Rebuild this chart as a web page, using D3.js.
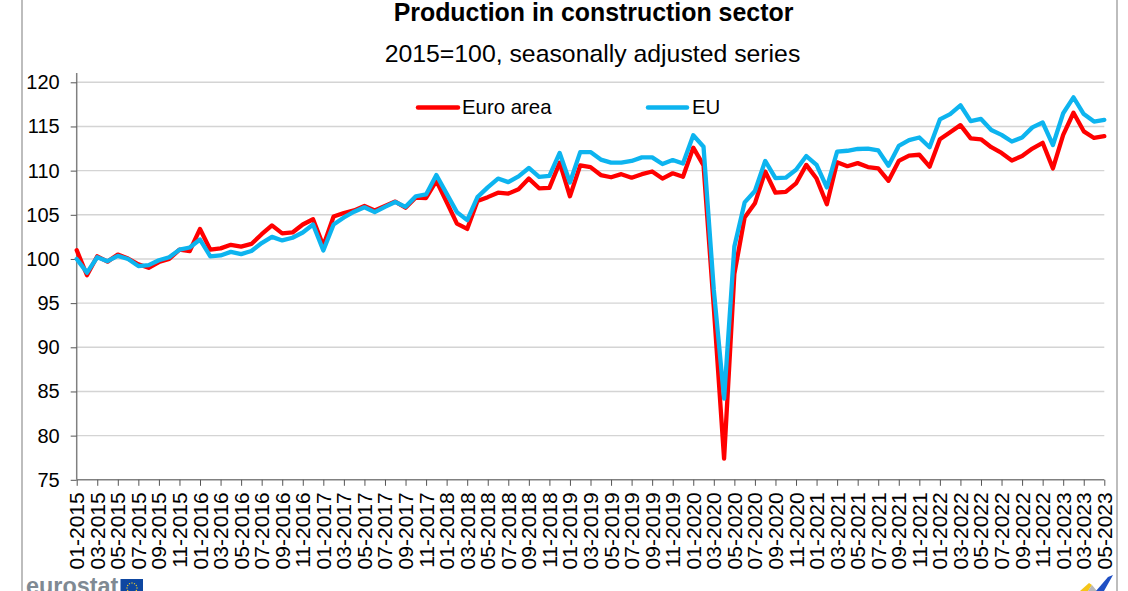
<!DOCTYPE html>
<html>
<head>
<meta charset="utf-8">
<script src="https://cdn.jsdelivr.net/npm/d3@7"></script>
<style>
html, body { margin: 0; padding: 0; background: #fff; overflow: hidden; }
svg { display: block; font-family: "Liberation Sans", Arial, sans-serif; }
</style>
</head>
<body>
<script>
var startYear = 2015;
var monthCount = 101;
var months = d3.range(monthCount).map(function (i) {
    var m = i % 12 + 1;
    return (m < 10 ? "0" : "") + m + "-" + (startYear + Math.floor(i / 12));
});

var euroArea = [
    101.0, 98.15, 100.3, 99.7, 100.5, 100.05, 99.4, 99.0, 99.65, 100.0, 101.05, 100.9,
    103.4, 101.05, 101.2, 101.6, 101.4, 101.7, 102.8, 103.8, 102.9, 103.0, 103.9, 104.5,
    101.5, 104.8, 105.2, 105.5, 106.0, 105.5, 106.0, 106.5, 105.8, 106.95, 106.9, 108.85,
    106.45, 104.0, 103.4, 106.55, 107.0, 107.5, 107.4, 107.9, 109.1, 108.0, 108.05, 110.9,
    107.1, 110.6, 110.4, 109.5, 109.25, 109.6, 109.2, 109.6, 109.9, 109.1, 109.7, 109.3,
    112.6, 110.6, 94.5, 77.4, 98.3, 104.7, 106.3, 109.9, 107.5, 107.6, 108.55, 110.65,
    109.1, 106.2, 110.95, 110.5, 110.85, 110.4, 110.25, 108.85, 111.1, 111.7, 111.8, 110.45,
    113.55, 114.35, 115.15, 113.65, 113.55, 112.65, 112.0, 111.15, 111.65, 112.5, 113.15, 110.25,
    114.05, 116.55, 114.45, 113.7, 113.9
];
var eu = [
    100.0, 98.45, 100.2, 99.75, 100.35, 100.0, 99.2, 99.3, 99.85, 100.2, 101.05, 101.3,
    102.2, 100.3, 100.4, 100.8, 100.55, 100.9, 101.8, 102.5, 102.1, 102.4, 103.0, 103.9,
    100.95, 103.9, 104.7, 105.35, 105.85, 105.3, 105.9, 106.45, 105.9, 107.1, 107.3, 109.5,
    107.4, 105.3, 104.4, 107.0, 108.1, 109.1, 108.7, 109.35, 110.3, 109.3, 109.4, 112.0,
    108.65, 112.1, 112.1, 111.25, 110.9, 110.9, 111.1, 111.5, 111.5, 110.75, 111.2, 110.8,
    114.0, 112.7, 96.5, 84.2, 101.4, 106.4, 107.7, 111.1, 109.15, 109.2, 110.1, 111.65,
    110.65, 108.1, 112.15, 112.25, 112.45, 112.5, 112.3, 110.55, 112.8, 113.45, 113.75, 112.65,
    115.8, 116.4, 117.4, 115.6, 115.85, 114.6, 114.05, 113.3, 113.75, 114.9, 115.45, 112.9,
    116.5, 118.3, 116.4, 115.55, 115.75
];
var yTicks = [75, 80, 85, 90, 95, 100, 105, 110, 115, 120];
var monthTicks = months.filter(function (d, i) { return i % 2 === 0; });

var _width = 1128;
var _height = 591;
var _left = 76.7, _right = 1104.3, _top = 82.3, _bottom = 479.8;
var _red = "#ff0000", _blue = "#0db4ef";

var svg = d3.select("body").append("svg")
    .attr("width", _width)
    .attr("height", _height);

var x = d3.scalePoint().domain(months).range([_left, _right]);
var y = d3.scaleLinear().domain([75, 120]).range([_bottom, _top]);

// page frame left over from the source document
svg.append("g").selectAll("line").data([22, 1117]).enter().append("line")
    .attr("x1", function (d) { return d; })
    .attr("x2", function (d) { return d; })
    .attr("y1", 0)
    .attr("y2", _height)
    .attr("stroke", "#bdbdbd")
    .attr("stroke-width", 2);

svg.append("text")
    .attr("x", 593.5).attr("y", 21)
    .attr("text-anchor", "middle")
    .attr("font-size", 24.9)
    .attr("font-weight", "bold")
    .attr("fill", "#000")
    .text("Production in construction sector");

svg.append("text")
    .attr("x", 592.5).attr("y", 61.5)
    .attr("text-anchor", "middle")
    .attr("font-size", 24.8)
    .attr("fill", "#000")
    .text("2015=100, seasonally adjusted series");

// gridlines
svg.append("g").selectAll("line").data(yTicks.slice(1)).enter().append("line")
    .attr("x1", _left)
    .attr("x2", _right)
    .attr("y1", function (d) { return y(d); })
    .attr("y2", function (d) { return y(d); })
    .attr("stroke", "#d4d4d4")
    .attr("stroke-width", 1.4);

var yAxis = svg.append("g")
    .attr("transform", "translate(" + _left + ",0)")
    .call(d3.axisLeft(y).tickValues(yTicks).tickSize(6).tickPadding(11));
yAxis.select(".domain")
    .attr("d", "M0," + 73 + "V" + _bottom)
    .attr("stroke", "#808080")
    .attr("stroke-width", 1.5);
yAxis.selectAll(".tick line").attr("stroke", "#555");
yAxis.selectAll("text")
    .attr("font-family", "Liberation Sans")
    .attr("font-size", 20)
    .attr("fill", "#000");

var xAxis = svg.append("g")
    .attr("transform", "translate(0," + _bottom + ")")
    .call(d3.axisBottom(x).tickValues(monthTicks).tickSize(6).tickPadding(0));
xAxis.select(".domain")
    .attr("d", "M" + _left + ",0H" + _right)
    .attr("stroke", "#808080")
    .attr("stroke-width", 1.5);
xAxis.selectAll(".tick line").attr("stroke", "#555");
xAxis.selectAll("text")
    .attr("font-family", "Liberation Sans")
    .attr("font-size", 21)
    .attr("fill", "#000")
    .attr("text-anchor", "end")
    .attr("dy", null)
    .attr("transform", "translate(7,12.5) rotate(-90)")
    .attr("x", 0)
    .attr("y", 0);

var line = d3.line()
    .x(function (d, i) { return x(months[i]); })
    .y(function (d) { return y(d); });

svg.append("path").datum(euroArea)
    .attr("d", line)
    .attr("fill", "none")
    .attr("stroke", _red)
    .attr("stroke-width", 4.3)
    .attr("stroke-linejoin", "round")
    .attr("stroke-linecap", "round");

svg.append("path").datum(eu)
    .attr("d", line)
    .attr("fill", "none")
    .attr("stroke", _blue)
    .attr("stroke-width", 4.3)
    .attr("stroke-linejoin", "round")
    .attr("stroke-linecap", "round");

// legend
var legendItems = [
    {name: "Euro area", color: _red, x1: 418, x2: 458, tx: 462},
    {name: "EU", color: _blue, x1: 648, x2: 687, tx: 692}
];
var legend = svg.append("g").selectAll("g").data(legendItems).enter().append("g");
legend.append("line")
    .attr("x1", function (d) { return d.x1; })
    .attr("x2", function (d) { return d.x2; })
    .attr("y1", 107.5)
    .attr("y2", 107.5)
    .attr("stroke", function (d) { return d.color; })
    .attr("stroke-width", 4.5)
    .attr("stroke-linecap", "round");
legend.append("text")
    .attr("x", function (d) { return d.tx; })
    .attr("y", 114)
    .attr("font-size", 20.4)
    .attr("fill", "#000")
    .text(function (d) { return d.name; });

// eurostat logo, cut off by the bottom of the page
svg.append("text")
    .attr("x", 26).attr("y", 594)
    .attr("font-size", 23.4)
    .attr("font-weight", "bold")
    .attr("fill", "#7f8a93")
    .text("eurostat");
svg.append("rect")
    .attr("x", 120.5).attr("y", 579)
    .attr("width", 22.5).attr("height", 14)
    .attr("fill", "#0e47a1");
svg.append("g").selectAll("circle").data(d3.range(12)).enter().append("circle")
    .attr("cx", function (d) { return 132 + 5 * Math.cos(d * Math.PI / 6); })
    .attr("cy", function (d) { return 588 + 5 * Math.sin(d * Math.PI / 6); })
    .attr("r", 0.7)
    .attr("fill", "#e8c92e");

// corner mark
svg.append("path").attr("d", "M1080,591L1089,583L1092,585L1088,591Z").attr("fill", "#f5c518");
svg.append("path").attr("d", "M1088,591L1092,585L1097,591Z").attr("fill", "#b9b9b9");
svg.append("path").attr("d", "M1096,591L1108,577L1113,575L1104,591Z").attr("fill", "#1f4fc4");
</script>
</body>
</html>
